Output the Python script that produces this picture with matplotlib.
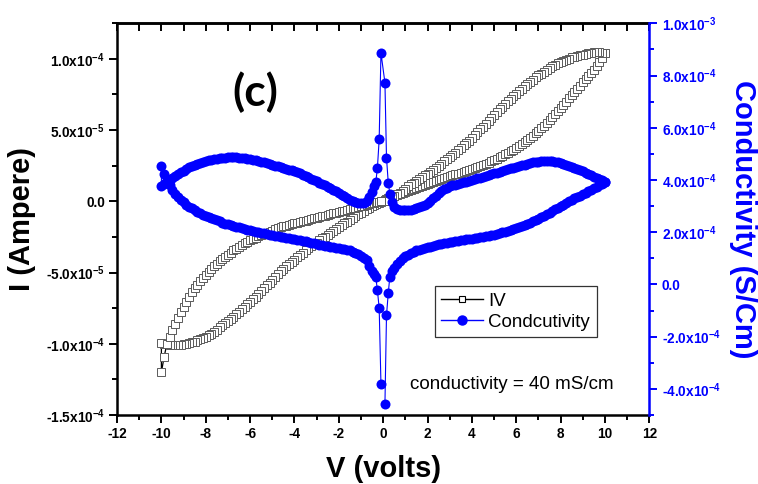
import numpy as np
import matplotlib
matplotlib.use("Agg")
import matplotlib.pyplot as plt
from matplotlib.lines import Line2D
from matplotlib.ticker import MultipleLocator, FixedLocator, FuncFormatter

plt.rcParams['font.family'] = 'Liberation Sans'
plt.rcParams['mathtext.fontset'] = 'custom'
plt.rcParams['mathtext.rm'] = 'Liberation Sans'
plt.rcParams['mathtext.bf'] = 'Liberation Sans:bold'
plt.rcParams['axes.unicode_minus'] = False

BLUE = '#0000ff'

# voltage steps (volts); the sweep runs 0 -> 10 -> 0 -> -10 -> 0
V_far = [0.5, 0.625, 0.75, 0.875, 1.0, 1.125, 1.25, 1.375,
         1.5, 1.625, 1.75, 1.875, 2.0, 2.125, 2.25, 2.375,
         2.5, 2.625, 2.75, 2.875, 3.0, 3.125, 3.25, 3.375,
         3.5, 3.625, 3.75, 3.875, 4.0, 4.125, 4.25, 4.375,
         4.5, 4.625, 4.75, 4.875, 5.0, 5.125, 5.25, 5.375,
         5.5, 5.625, 5.75, 5.875, 6.0, 6.125, 6.25, 6.375,
         6.5, 6.625, 6.75, 6.875, 7.0, 7.125, 7.25, 7.375,
         7.5, 7.625, 7.75, 7.875, 8.0, 8.125, 8.25, 8.375,
         8.5, 8.625, 8.75, 8.875, 9.0, 9.125, 9.25, 9.375,
         9.5, 9.625, 9.75, 9.875, 10.0]
V_pos = [0.08, 0.15, 0.23, 0.3, 0.4] + V_far
V_neg = [-0.1, -0.18, -0.26, -0.33, -0.4] + [-v for v in V_far]

# current, units of 1e-5 A (listed along V_pos / V_neg)
I_pos_low = [0.1, 0.15, 0.2, 0.25, 0.3,
             0.35, 0.42, 0.5, 0.57, 0.65, 0.72, 0.8, 0.87,
             0.95, 1.03, 1.1, 1.15, 1.2, 1.27, 1.35, 1.42,
             1.5, 1.57, 1.65, 1.72, 1.8, 1.85, 1.9, 1.95,
             2.0, 2.05, 2.1, 2.17, 2.25, 2.32, 2.4, 2.47,
             2.55, 2.62, 2.7, 2.8, 2.9, 3.0, 3.1, 3.2,
             3.3, 3.4, 3.5, 3.62, 3.75, 3.87, 4.0, 4.15,
             4.3, 4.45, 4.6, 4.77, 4.95, 5.12, 5.3, 5.5,
             5.7, 5.9, 6.1, 6.32, 6.55, 6.77, 7.0, 7.22,
             7.45, 7.67, 7.9, 8.12, 8.35, 8.57, 8.8, 9.02,
             9.25, 9.5, 9.75, 10.05, 10.4]
I_pos_up = [0.05, 0.1, 0.15, 0.2, 0.3,
            0.4, 0.5, 0.6, 0.75, 0.9, 1.05, 1.2, 1.32,
            1.45, 1.57, 1.7, 1.82, 1.95, 2.07, 2.2, 2.35,
            2.5, 2.65, 2.8, 2.95, 3.1, 3.25, 3.4, 3.57,
            3.75, 3.92, 4.1, 4.27, 4.45, 4.65, 4.85, 5.05,
            5.25, 5.45, 5.65, 5.85, 6.05, 6.25, 6.45, 6.65,
            6.85, 7.02, 7.2, 7.37, 7.55, 7.72, 7.9, 8.07,
            8.25, 8.4, 8.55, 8.7, 8.85, 8.97, 9.1, 9.22,
            9.35, 9.47, 9.6, 9.7, 9.8, 9.87, 9.95, 10.02,
            10.1, 10.15, 10.2, 10.25, 10.3, 10.35, 10.4, 10.42,
            10.45, 10.45, 10.45, 10.42, 10.4]
I_neg_low = [-0.05, -0.1, -0.15, -0.2, -0.25,
             -0.35, -0.45, -0.55, -0.67, -0.8, -0.92, -1.05, -1.17,
             -1.3, -1.42, -1.55, -1.67, -1.8, -1.95, -2.1, -2.22,
             -2.35, -2.47, -2.6, -2.75, -2.9, -3.02, -3.15, -3.3,
             -3.45, -3.6, -3.75, -3.92, -4.1, -4.25, -4.4, -4.57,
             -4.75, -4.92, -5.1, -5.3, -5.5, -5.7, -5.9, -6.1,
             -6.3, -6.5, -6.7, -6.87, -7.05, -7.22, -7.4, -7.57,
             -7.75, -7.92, -8.1, -8.25, -8.4, -8.55, -8.7, -8.85,
             -9.0, -9.15, -9.3, -9.4, -9.5, -9.6, -9.7, -9.77,
             -9.85, -9.9, -9.95, -10.0, -10.05, -10.07, -10.1, -10.1,
             -10.1, -10.07, -10.05, -10.0, -9.95]
I_neg_up = [-0.01, -0.03, -0.05, -0.08, -0.1,
            -0.15, -0.2, -0.25, -0.3, -0.35, -0.4, -0.45, -0.5,
            -0.55, -0.6, -0.65, -0.7, -0.75, -0.8, -0.85, -0.9,
            -0.95, -1.0, -1.05, -1.1, -1.15, -1.2, -1.25, -1.3,
            -1.35, -1.4, -1.45, -1.5, -1.55, -1.6, -1.65, -1.7,
            -1.75, -1.82, -1.9, -1.97, -2.05, -2.12, -2.2, -2.27,
            -2.35, -2.45, -2.55, -2.65, -2.75, -2.85, -2.95, -3.07,
            -3.2, -3.32, -3.45, -3.6, -3.75, -3.9, -4.05, -4.22,
            -4.4, -4.57, -4.75, -4.95, -5.15, -5.37, -5.6, -5.85,
            -6.1, -6.4, -6.7, -7.05, -7.4, -7.8, -8.2, -8.6,
            -9.0, -9.5, -10.0, -10.9, -12.0]

# conductivity, units of 1e-4 S/cm (listed along V_pos / V_neg)
S_pos_low = [-4.57, -1.18, -0.33, 0.29, 0.5,
             0.62, 0.77, 0.9, 1.0, 1.08, 1.14, 1.2, 1.25,
             1.3, 1.33, 1.36, 1.39, 1.42, 1.45, 1.48, 1.5,
             1.53, 1.55, 1.58, 1.6, 1.62, 1.64, 1.66, 1.67,
             1.69, 1.7, 1.72, 1.73, 1.75, 1.76, 1.78, 1.8,
             1.82, 1.84, 1.86, 1.88, 1.91, 1.93, 1.96, 1.99,
             2.02, 2.05, 2.08, 2.11, 2.15, 2.19, 2.23, 2.27,
             2.32, 2.37, 2.42, 2.47, 2.52, 2.57, 2.63, 2.69,
             2.75, 2.81, 2.88, 2.94, 3.0, 3.06, 3.12, 3.18,
             3.24, 3.3, 3.35, 3.4, 3.46, 3.51, 3.57, 3.62,
             3.68, 3.74, 3.8, 3.86, 3.93]
S_pos_up = [7.72, 4.85, 3.89, 3.48, 3.15,
            2.98, 2.9, 2.86, 2.85, 2.84, 2.85, 2.86, 2.89,
            2.92, 2.96, 3.0, 3.05, 3.1, 3.2, 3.3, 3.4,
            3.5, 3.58, 3.65, 3.7, 3.75, 3.79, 3.82, 3.85,
            3.88, 3.91, 3.94, 3.97, 4.0, 4.03, 4.06, 4.09,
            4.12, 4.15, 4.18, 4.21, 4.25, 4.28, 4.32, 4.35,
            4.39, 4.42, 4.45, 4.47, 4.5, 4.53, 4.56, 4.59,
            4.62, 4.65, 4.67, 4.69, 4.7, 4.71, 4.72, 4.72,
            4.72, 4.71, 4.7, 4.68, 4.65, 4.62, 4.58, 4.54,
            4.5, 4.46, 4.42, 4.38, 4.33, 4.28, 4.23, 4.18,
            4.13, 4.08, 4.03, 3.98, 3.93]
S_neg_up = [8.87, 5.55, 4.46, 3.93, 3.75,
            3.55, 3.35, 3.18, 3.13, 3.1, 3.12, 3.15, 3.2,
            3.25, 3.31, 3.38, 3.44, 3.5, 3.56, 3.62, 3.68,
            3.74, 3.8, 3.85, 3.9, 3.95, 4.0, 4.05, 4.1,
            4.15, 4.2, 4.25, 4.29, 4.33, 4.37, 4.4, 4.43,
            4.46, 4.49, 4.52, 4.55, 4.58, 4.61, 4.64, 4.67,
            4.7, 4.73, 4.75, 4.77, 4.79, 4.81, 4.83, 4.85,
            4.86, 4.87, 4.87, 4.87, 4.87, 4.86, 4.85, 4.84,
            4.82, 4.8, 4.77, 4.75, 4.72, 4.69, 4.66, 4.62,
            4.58, 4.53, 4.48, 4.42, 4.36, 4.29, 4.22, 4.15,
            4.08, 4.0, 3.93, 3.85, 3.78]
S_neg_low = [-3.81, -0.9, -0.23, 0.27, 0.38,
             0.5, 0.72, 0.92, 1.02, 1.1, 1.16, 1.22, 1.26,
             1.3, 1.32, 1.34, 1.36, 1.38, 1.4, 1.42, 1.44,
             1.46, 1.48, 1.5, 1.52, 1.55, 1.57, 1.6, 1.62,
             1.65, 1.67, 1.69, 1.71, 1.73, 1.75, 1.77, 1.79,
             1.81, 1.83, 1.85, 1.87, 1.89, 1.91, 1.93, 1.95,
             1.97, 2.0, 2.02, 2.05, 2.07, 2.1, 2.12, 2.15,
             2.18, 2.21, 2.24, 2.27, 2.3, 2.33, 2.37, 2.41,
             2.45, 2.49, 2.53, 2.57, 2.62, 2.67, 2.72, 2.78,
             2.84, 2.91, 2.98, 3.06, 3.15, 3.25, 3.35, 3.48,
             3.62, 3.79, 3.98, 4.22, 4.53]

x_ticks = [-12, -10, -8, -6, -4, -2, 0, 2, 4, 6, 8, 10, 12]
i_ticks = [-1.5e-4, -1.0e-4, -5.0e-5, 0.0, 5.0e-5, 1.0e-4]
s_ticks = [-4e-4, -2e-4, 0.0, 2e-4, 4e-4, 6e-4, 8e-4, 1e-3]

V = np.array(V_pos + V_pos[::-1] + V_neg + V_neg[::-1])
I = np.array(I_pos_low + I_pos_up[::-1] + I_neg_low + I_neg_up[::-1]) * 1e-5
S = np.array(S_pos_low + S_pos_up[::-1] + S_neg_up + S_neg_low[::-1]) * 1e-4


def sci(v, pos=None):
    if v == 0:
        return '0.0'
    e = int(np.floor(np.log10(abs(v)) + 1e-9))
    m = v / 10.0 ** e
    return '%.1fx10$^{\\mathbf{%d}}$' % (m, e)


fig = plt.figure(figsize=(7.58, 4.84), dpi=100)
ax = fig.add_axes([0.1544, 0.1426, 0.7022, 0.8093])
ax2 = ax.twinx()

ax.plot(V, I, color='black', lw=0.9, marker='s', ms=5.4, mfc='white', mec='#5a5a5a', mew=0.7)
ax2.plot(V, S, color=BLUE, lw=0.8, marker='o', ms=7.2, mfc=BLUE, mec=BLUE, mew=0)

ax.set_xlim(-12, 12)
ax.set_ylim(-1.5e-4, 1.25e-4)
ax2.set_ylim(-5e-4, 1e-3)

ax.xaxis.set_major_locator(FixedLocator(x_ticks))
ax.xaxis.set_minor_locator(MultipleLocator(1))
ax.yaxis.set_major_locator(FixedLocator(i_ticks))
ax.yaxis.set_minor_locator(MultipleLocator(2.5e-5))
ax.yaxis.set_major_formatter(FuncFormatter(sci))
ax2.yaxis.set_major_locator(FixedLocator(s_ticks))
ax2.yaxis.set_minor_locator(MultipleLocator(1e-4))
ax2.yaxis.set_major_formatter(FuncFormatter(sci))

for sp in ['left', 'bottom', 'top']:
    ax.spines[sp].set_linewidth(1.8)
    ax2.spines[sp].set_visible(False)
ax.spines['right'].set_visible(False)
ax2.spines['right'].set_linewidth(1.8)
ax2.spines['right'].set_color(BLUE)

ax.tick_params(axis='both', which='major', direction='out', length=5.8, width=1.4,
               labelsize=9.8, pad=3)
ax.tick_params(axis='both', which='minor', direction='out', length=3.4, width=1.4)
ax.tick_params(axis='x', top=False)
ax2.tick_params(axis='y', which='major', direction='out', length=5.8, width=1.4,
                colors=BLUE, labelsize=9.8, pad=3)
ax2.tick_params(axis='y', which='minor', direction='out', length=3.4, width=1.4, colors=BLUE)
for lab in ax.get_xticklabels() + ax.get_yticklabels():
    lab.set_fontweight('bold')
for lab in ax2.get_yticklabels():
    lab.set_fontweight('bold')

top = ax.secondary_xaxis('top')
top.xaxis.set_major_locator(FixedLocator(x_ticks))
top.xaxis.set_minor_locator(MultipleLocator(1))
top.tick_params(which='both', direction='in', length=5.8, width=1.4, labeltop=False)
top.spines['top'].set_linewidth(1.8)

ax.set_xlabel('V (volts)', fontsize=21, fontweight='bold', va='center')
ax.xaxis.set_label_coords(0.5, -0.138)
ax.set_ylabel('I (Ampere)', fontsize=21, fontweight='bold', va='center', ha='center')
ax.yaxis.set_label_coords(-0.178, 0.5)
ax2.set_ylabel('Conductivity (S/Cm)', fontsize=21, fontweight='bold', color=BLUE,
               rotation=270, va='center', ha='center')
ax2.yaxis.set_label_coords(1.176, 0.5)

ax.text(0.259, 0.825, '(c)', transform=ax.transAxes, fontsize=32, fontweight='bold',
        family='Lato', ha='center', va='center')
ax2.text(0.742, 0.0766, 'conductivity = 40 mS/cm', transform=ax.transAxes, fontsize=13.5,
         ha='center', va='center')

handles = [Line2D([], [], color='black', lw=1, marker='s', ms=5, mfc='white', mec='black',
                  mew=0.8),
           Line2D([], [], color=BLUE, lw=1, marker='o', ms=6.5, mfc=BLUE, mec=BLUE)]
leg = ax2.legend(handles, ['IV', 'Condcutivity'], loc='upper left',
                 bbox_to_anchor=(0.597, 0.329), borderaxespad=0, fontsize=13.5,
                 handlelength=2.2, handletextpad=0.3, labelspacing=0.2, borderpad=0.35,
                 fancybox=False, framealpha=1)
leg.get_frame().set_edgecolor('#333333')
leg.get_frame().set_linewidth(0.9)

fig.savefig('out.png', dpi=100)
